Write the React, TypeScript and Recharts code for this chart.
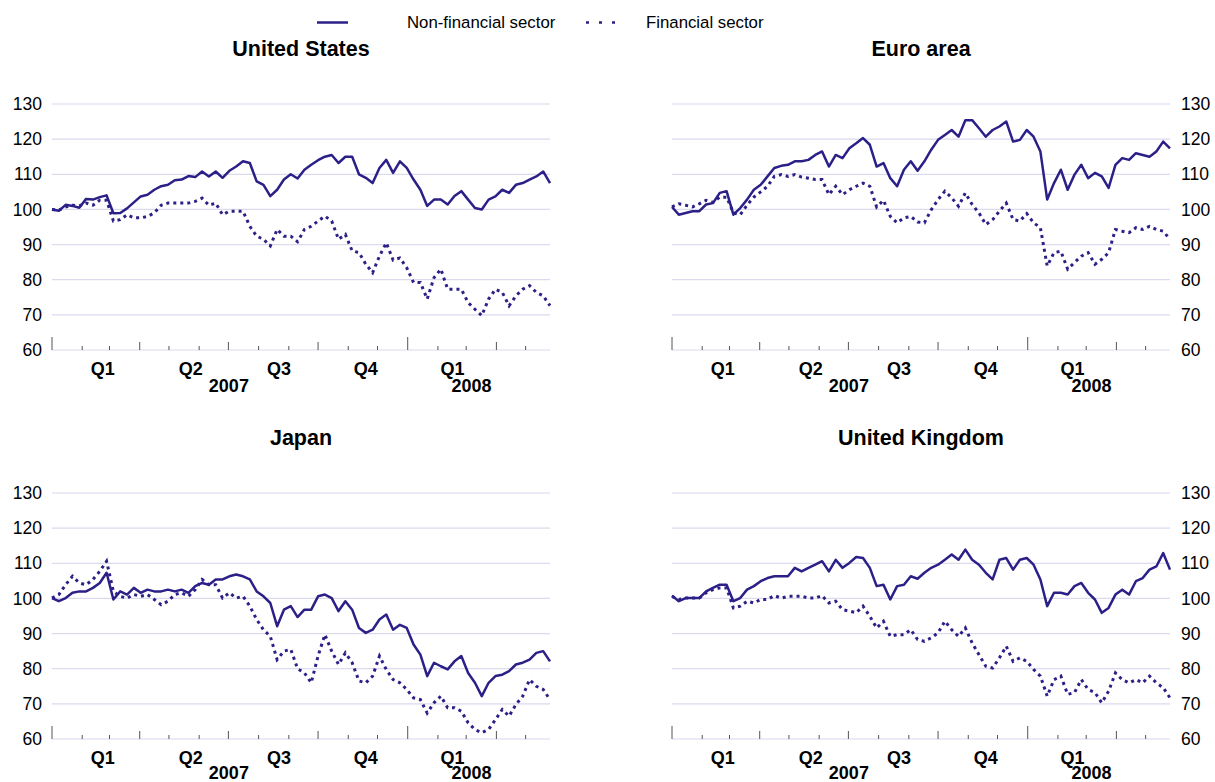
import React from "react";
import { LineChart, Line, XAxis, YAxis, CartesianGrid } from "recharts";

// weekly sample points, in days since 1 Jan 2007
const weekDays = Array.from({ length: 74 }, (_, i) => i * 7);

const usNonFin = [
  100, 99.6, 101.3, 101, 100.5, 103, 102.8, 103.5, 104, 98.9,
  99, 100.3, 102, 103.7, 104.2, 105.6, 106.6, 107, 108.3, 108.5,
  109.5, 109.2, 110.8, 109.4, 110.8, 109, 111, 112.2, 113.7, 113.2,
  108, 107, 103.8, 105.6, 108.5, 110, 108.8,
  111.3, 112.7, 114, 115, 115.5, 113.2, 115, 115, 110, 109,
  107.5, 111.8, 114.1, 110.4, 113.7, 111.8, 108.5, 105.6, 101, 102.8,
  102.8, 101.4, 103.8, 105.2, 102.8, 100.4, 100, 102.8, 103.7, 105.6,
  104.7, 107, 107.5, 108.5, 109.4, 110.8, 107.5,
];
const usFin = [
  100, 99.8, 100.7, 101.2, 101, 101.8, 101.2, 102.6, 102.6, 96.7,
  97.1, 98.5, 97.6, 97.6, 98, 99, 101.2, 101.8, 101.8, 101.8,
  101.8, 102.3, 103.2, 101.2, 101.8, 98.5, 99.5, 99.5, 99.5, 95.2,
  92.4, 91.5, 89.6, 94.3, 92.4, 92.4, 90.8,
  94.3, 95.2, 96.7, 98.1, 96.7, 91.5, 92.9, 88.2, 87.7, 84.4,
  82, 86.7, 90.5, 85.6, 86.2, 83.4, 79.2, 79.2, 74.5, 80.6,
  83, 77.3, 77.3, 77.3, 73.5, 71.6, 69.8, 74.5, 77.3, 76.4,
  72.6, 75.4, 77.3, 78.3, 76.4, 75.4, 72.6,
];

const euNonFin = [
  100.7, 98.5, 99, 99.5, 99.5, 101.4, 101.8, 104.7, 105.2, 98.5,
  100.4, 102.8, 105.6, 107, 109.4, 111.8, 112.4, 112.7, 113.7, 113.7,
  114.1, 115.5, 116.5, 112.2, 115.5, 114.6, 117.4, 118.8, 120.3, 118.4,
  112.2, 113.2, 108.9, 106.6, 111.3, 113.7, 111,
  113.7, 117, 119.8, 121.2, 122.6, 120.7, 125.4, 125.4, 123.1, 120.7,
  122.6, 123.6, 125, 119.3, 119.8, 122.6, 120.7, 116.5, 102.8, 107.5,
  111.3, 105.6, 109.9, 112.7, 108.9, 110.4, 109.4, 106.1, 112.7, 114.6,
  114.1, 116, 115.5, 115, 116.5, 119.3, 117.4,
];
const euFin = [
  100.7, 101.6, 101.2, 100.7, 101.6, 102.6, 102, 103.5, 103.5, 99,
  98.5, 101.2, 103.5, 105, 106.6, 109.4, 109.9, 109.4, 109.9, 109.2,
  108.9, 108.5, 108.5, 104.2, 106.6, 104.2, 105.6, 106.6, 107.5, 106.6,
  100.7, 102.6, 98, 96.2, 97.6, 98, 96.4,
  96.2, 99.9, 102.8, 105.2, 103.3, 100.9, 104.7, 101.4, 99, 95.7,
  97.1, 99.5, 101.8, 97.1, 96.7, 98.8, 96.2, 94.8, 83.9, 87.7,
  88.1, 83, 84.9, 86.7, 87.7, 84.4, 85.8, 87.7, 94.3, 93.8,
  93.4, 94.8, 94.3, 95.2, 94.3, 93.8, 91.5,
];

const jpNonFin = [
  100.1, 99.2, 100.1, 101.6, 102, 102, 103, 104.4, 107.3, 99.7,
  102, 101.1, 103, 101.6, 102.5, 102, 102, 102.5, 102, 102.5,
  101.6, 103.5, 104.4, 103.9, 105.4, 105.4, 106.3, 106.8, 106.3, 105.4,
  102, 100.6, 98.7, 92.1, 96.8, 97.8, 94.7,
  96.8, 96.8, 100.6, 101.1, 100.1, 96.4, 99.2, 96.8, 91.6, 90.2,
  91.1, 94, 95.4, 91.1, 92.5, 91.6, 86.9, 84, 77.9, 81.7,
  80.7, 79.8, 82.1, 83.6, 78.8, 76, 72.2, 76, 77.9, 78.3,
  79.3, 81.2, 81.7, 82.6, 84.5, 85, 82.1,
];
const jpFin = [
  100.1, 101.1, 103.9, 106.3, 104.4, 103.9, 105.4, 107.7, 110.6, 102,
  100.6, 100.1, 101.1, 100.6, 101.1, 99.7, 98.2, 99.2, 101.1, 101.6,
  100.6, 102.5, 105.4, 103.9, 103.9, 100.1, 101.6, 100.1, 100.6, 97.8,
  94, 91.1, 89.2, 82.6, 85, 85.5, 80,
  78.8, 76, 83.6, 89.7, 85, 81.2, 84.5, 81.7, 76.5, 76,
  77.9, 83.6, 79.8, 76.9, 76, 74.1, 71.7, 71.2, 67.4, 70.3,
  72.2, 68.9, 68.9, 67.9, 64.6, 62.7, 61.8, 62.7, 65.5, 68.4,
  66.5, 69.8, 72.2, 76.9, 75, 74.1, 71.2,
];

const ukNonFin = [
  100.8, 99.2, 100.1, 100.1, 100.1, 102, 103, 103.9, 103.9, 99.2,
  100.1, 102.5, 103.5, 104.9, 105.8, 106.3, 106.3, 106.3, 108.7, 107.7,
  108.7, 109.6, 110.6, 107.7, 111, 108.7, 110.1, 111.8, 111.5, 108.7,
  103.5, 103.9, 99.7, 103.5, 103.9, 106.3, 105.6,
  107.3, 108.7, 109.6, 111, 112.5, 111, 113.9, 111, 109.6, 107.3,
  105.4, 111, 111.5, 108.2, 111, 111.5, 109.6, 105.4, 97.8, 101.6,
  101.6, 101.1, 103.5, 104.4, 101.6, 99.7, 95.9, 97.3, 101.1, 102.5,
  101.1, 104.9, 105.8, 108.2, 109.1, 112.9, 108.2,
];
const ukFin = [
  100.6, 99.7, 100.1, 100.1, 100.1, 101.6, 102.5, 103, 103, 97.3,
  97.8, 99.2, 98.7, 99.7, 99.7, 100.8, 100.1, 100.6, 100.6, 100.6,
  100.1, 100.1, 100.8, 98.7, 99.2, 96.8, 96.4, 95.9, 97.8, 94.9,
  91.6, 93.5, 89.2, 89.7, 89.7, 91.1, 88.3,
  87.8, 88.8, 90.2, 93.5, 91.1, 89.2, 91.6, 87.3, 84, 80.7,
  80.2, 83.1, 86.4, 82.1, 83.1, 82.1, 79.8, 77.9, 72.2, 76.9,
  77.9, 72.7, 73.2, 76.9, 74.1, 73.2, 70.3, 73.6, 78.8, 76.9,
  76, 76.9, 76, 77.9, 76, 74.6, 71.7,
];

const yTicks = [60, 70, 80, 90, 100, 110, 120, 130];

// month starts (days since 1 Jan 2007)
const monthTicks = [0, 31, 59, 90, 120, 151, 181, 212, 243, 273, 304, 334, 365, 396, 425, 456, 486];
const yearStarts = [0, 365];
const quarterStarts = [90, 181, 273, 456];
const quarterLabelPos = [52, 142.5, 233, 322, 411];
const quarterNames = ["Q1", "Q2", "Q3", "Q4", "Q1"];
const yearLabelPos = [181.5, 430.5];
const yearNames = ["2007", "2008"];

const allXTicks = [...monthTicks, ...quarterLabelPos, ...yearLabelPos];

const NAVY = "#2b2087";
const GRID = "#dcdaee";
const FONT = "'Liberation Sans', Arial, Helvetica, sans-serif";

function XTick(props: any) {
  const { x, y, payload, yearDy } = props;
  const v = payload.value;
  const qi = quarterLabelPos.indexOf(v);
  if (qi >= 0) {
    return (
      <text x={x} y={y + 24.5} textAnchor="middle" fontFamily={FONT} fontSize={18} fontWeight="bold" fill="#000">
        {quarterNames[qi]}
      </text>
    );
  }
  const yi = yearLabelPos.indexOf(v);
  if (yi >= 0) {
    return (
      <text x={x} y={y + yearDy} textAnchor="middle" fontFamily={FONT} fontSize={18} fontWeight="bold" fill="#000">
        {yearNames[yi]}
      </text>
    );
  }
  const h = yearStarts.includes(v) ? 13 : quarterStarts.includes(v) ? 8 : 4;
  return <line x1={x} x2={x} y1={y} y2={y - h} stroke="#555" strokeWidth={1} />;
}

function Panel({
  title,
  nonFin,
  fin,
  side,
  left,
  top,
  yearDy,
}: {
  title: string;
  nonFin: number[];
  fin: number[];
  side: "left" | "right";
  left: number;
  top: number;
  yearDy: number;
}) {
  const rows = weekDays.map((t, i) => ({ t, nonFin: nonFin[i], fin: fin[i] }));
  const width = side === "left" ? 560 : 595;
  const plotCenter = side === "left" ? 301 : 921;
  return (
    <>
      <div
        style={{
          position: "absolute",
          left: plotCenter - 200,
          top: top - 53,
          width: 400,
          textAlign: "center",
          fontFamily: FONT,
          fontWeight: "bold",
          fontSize: 21.5,
          lineHeight: "24px",
        }}
      >
        {title}
      </div>
      <div style={{ position: "absolute", left, top }}>
        <LineChart
          width={width}
          height={310}
          data={rows}
          margin={side === "left" ? { top: 14, right: 10, bottom: 0, left: 0 } : { top: 14, right: 0, bottom: 0, left: 52 }}
        >
          <CartesianGrid vertical={false} stroke={GRID} strokeWidth={1.2} />
          <XAxis
            dataKey="t"
            type="number"
            domain={[0, 511]}
            ticks={allXTicks}
            interval={0}
            tick={<XTick yearDy={yearDy} />}
            tickLine={false}
            axisLine={false}
            tickSize={0}
            tickMargin={0}
            height={50}
          />
          <YAxis
            orientation={side}
            domain={[60, 130]}
            ticks={yTicks}
            interval={0}
            width={side === "left" ? 52 : 45}
            tickLine={false}
            axisLine={false}
            tickSize={0}
            tickMargin={side === "left" ? 10 : 11}
            tick={{ fill: "#000", fontSize: 17.5, fontFamily: FONT }}
          />
          <Line
            dataKey="fin"
            stroke={NAVY}
            strokeWidth={3}
            strokeDasharray="3 4"
            dot={false}
            isAnimationActive={false}
          />
          <Line
            dataKey="nonFin"
            stroke={NAVY}
            strokeWidth={2.5}
            strokeLinejoin="round"
            dot={false}
            isAnimationActive={false}
          />
        </LineChart>
      </div>
    </>
  );
}

export default function App() {
  return (
    <div
      style={{
        position: "absolute",
        left: 0,
        top: 0,
        width: 1215,
        height: 782,
        overflow: "hidden",
        background: "#fff",
        fontFamily: FONT,
      }}
    >
      {/* legend */}
      <svg style={{ position: "absolute", left: 0, top: 0 }} width={1215} height={40}>
        <line x1={317} x2={348} y1={22.5} y2={22.5} stroke={NAVY} strokeWidth={2.5} />
        <text x={407} y={28} fontFamily={FONT} fontSize={16.8} fill="#000">
          Non-financial sector
        </text>
        <line x1={586} x2={624} y1={22.5} y2={22.5} stroke={NAVY} strokeWidth={2.5} strokeDasharray="3 10" />
        <text x={646} y={28} fontFamily={FONT} fontSize={16.8} fill="#000">
          Financial sector
        </text>
      </svg>
      <Panel title="United States" nonFin={usNonFin} fin={usFin} side="left" left={0} top={90} yearDy={41.5} />
      <Panel title="Euro area" nonFin={euNonFin} fin={euFin} side="right" left={620} top={90} yearDy={41.5} />
      <Panel title="Japan" nonFin={jpNonFin} fin={jpFin} side="left" left={0} top={479} yearDy={40} />
      <Panel title="United Kingdom" nonFin={ukNonFin} fin={ukFin} side="right" left={620} top={479} yearDy={40} />
    </div>
  );
}
